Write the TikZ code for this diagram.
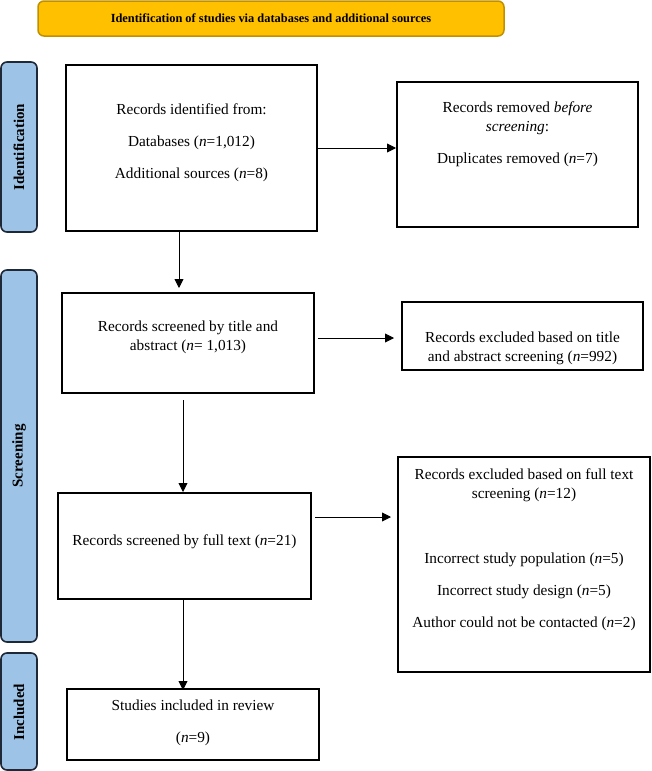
\documentclass[tikz,border=0pt]{standalone}
\usepackage{fontspec}
\setmainfont{Liberation Serif}
\usetikzlibrary{arrows.meta}
\definecolor{hdrfill}{RGB}{255,192,0}
\definecolor{hdrline}{RGB}{191,144,0}
\definecolor{sidefill}{RGB}{157,195,230}
\definecolor{sideline}{RGB}{30,40,55}
\tikzset{
  box/.style={draw=black, line width=1.6pt, fill=white, inner sep=0pt},
  txt/.style={align=center, inner sep=0pt, font=\fontsize{15.3}{18.8}\selectfont},
  side/.style={draw=sideline, line width=1.6pt, fill=sidefill, rounded corners=6pt, inner sep=0pt},
  sidetxt/.style={rotate=90, inner sep=0pt, font=\fontsize{15}{18}\selectfont\bfseries},
  arr/.style={line width=0.9pt, -{Triangle[length=9pt,width=9pt]}},
}
\begin{document}
\begin{tikzpicture}[x=1pt,y=-1pt]
\useasboundingbox (0,0) rectangle (651,771);
% header
\node[draw=hdrline, line width=1.5pt, fill=hdrfill, rounded corners=6pt, minimum width=466pt, minimum height=35pt, inner sep=0pt] (hdr) at (271,18.5) {};
\node[inner sep=0pt, font=\fontsize{12.4}{14}\selectfont\bfseries] (hdrt) at (271,18.5) {Identification of studies via databases and additional sources};
% side bars
\node[side, minimum width=36pt, minimum height=170pt] (sid) at (19,147) {};
\node[sidetxt] (sidt) at (19,147) {Identification};
\node[side, minimum width=36pt, minimum height=372pt] (sscr) at (19,456) {};
\node[sidetxt] (sscrt) at (19,456) {Screening};
\node[side, minimum width=36pt, minimum height=117pt] (sinc) at (19,711.5) {};
\node[sidetxt] (sinct) at (19,712) {Included};
% boxes
\node[box, minimum width=251pt, minimum height=166pt] (b1) at (191.5,148) {};
\node[txt] (b1t) at (191.5,143) {Records identified from:\\[13pt]Databases (\textit{n}=1,012)\\[13pt]Additional sources (\textit{n}=8)};
\node[box, minimum width=241pt, minimum height=145pt] (b2) at (517.5,154.5) {};
\node[txt] (b2t) at (517.5,134) {Records removed \textit{before}\\\textit{screening}:\\[13pt]Duplicates removed (\textit{n}=7)};
\node[box, minimum width=252pt, minimum height=100pt] (b3) at (188,343) {};
\node[txt] (b3t) at (188,337.5) {Records screened by title and\\abstract (\textit{n}= 1,013)};
\node[box, minimum width=241pt, minimum height=68pt] (b3x) at (522.5,336) {};
\node[txt] (b3xt) at (522.5,348) {Records excluded based on title\\and abstract screening (\textit{n}=992)};
\node[box, minimum width=253pt, minimum height=106pt] (b4) at (184.5,546) {};
\node[txt] (b4t) at (184.5,542) {Records screened by full text (\textit{n}=21)};
\node[box, minimum width=252pt, minimum height=215pt] (b4x) at (524,564.5) {};
\node[txt] (b4xt1) at (524,485) {Records excluded based on full text\\screening (\textit{n}=12)};
\node[txt] (b4xt2) at (524,592) {Incorrect study population (\textit{n}=5)\\[13pt]Incorrect study design (\textit{n}=5)\\[13pt]Author could not be contacted (\textit{n}=2)};
\node[box, minimum width=252pt, minimum height=71pt] (b5) at (193,724.5) {};
\node[txt] (b5t) at (193,723) {Studies included in review\\[13pt](\textit{n}=9)};
% arrow end points
\coordinate (e12) at (396,148);
\coordinate (e13) at (179,288);
\coordinate (s34) at (183,400);
\coordinate (e34) at (183,492);
\coordinate (s3x) at (318,338);
\coordinate (e3x) at (394,338);
\coordinate (s4x) at (315,517);
\coordinate (e4x) at (391,517);
\coordinate (e45) at (183,690);
% connectors
\draw[arr] (b1.east |- e12) -- (e12);
\draw[arr] (b1.south -| e13) -- (e13);
\draw[arr] (s34) -- (e34);
\draw[arr] (s3x) -- (e3x);
\draw[arr] (s4x) -- (e4x);
\draw[arr] (b4.south -| e45) -- (e45);
\end{tikzpicture}
\end{document}
